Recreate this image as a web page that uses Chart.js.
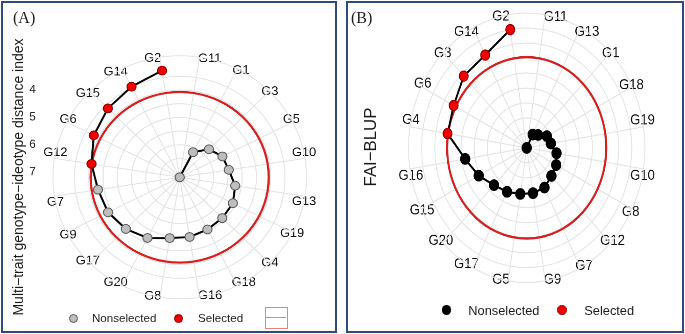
<!DOCTYPE html>
<html>
<head>
<meta charset="utf-8">
<script src="https://cdn.jsdelivr.net/npm/chart.js@4.4.1/dist/chart.umd.min.js"></script>
<style>
  body { margin: 0; width: 685px; height: 334px; position: relative; overflow: hidden; background: #fff;
         font-family: "Liberation Sans", Arial, sans-serif; color: #1a1a1a; }
  .abs { position: absolute; }
  .panel { position: absolute; border: 2px solid #2f4b7c; box-sizing: border-box; }
  .tag { position: absolute; font-family: "Liberation Serif", "Times New Roman", serif; font-size: 16px; line-height: 16px; }
  .ytitle { position: absolute; width: 320px; text-align: center; transform: translate(-50%, -50%) rotate(-90deg); white-space: nowrap; }
  .dot { position: absolute; border-radius: 50%; box-sizing: border-box; }
  .lg { position: absolute; white-space: nowrap; }
</style>
</head>
<body>
<div class="panel" style="left:1px;top:1px;width:336px;height:332px"></div>
<div class="panel" style="left:346px;top:1px;width:338px;height:332px"></div>

<canvas id="chartA" class="abs" width="325" height="333" style="left:4px;top:4px;width:331.5px;height:326.3px"></canvas>
<canvas id="chartB" class="abs" width="355" height="305" style="left:349px;top:4px;width:332.3px;height:324.5px"></canvas>

<div class="tag" style="left:13px;top:10px">(A)</div>
<div class="tag" style="left:351px;top:10px">(B)</div>

<div class="ytitle" style="left:18px;top:177px;font-size:14px;line-height:16px">Multi−trait genotype−ideotype distance index</div>
<div class="ytitle" style="left:371px;top:147px;font-size:16.8px;line-height:18px">FAI−BLUP</div>

<!-- legend A -->
<div class="dot" style="left:68.5px;top:313.5px;width:9px;height:9px;background:#bdbdbd;border:1px solid #5a5a5a"></div>
<div class="lg" style="left:92px;top:311px;font-size:11.6px;line-height:14px">Nonselected</div>
<div class="dot" style="left:173.5px;top:313.5px;width:9px;height:9px;background:#f00000;border:1px solid #8b0000"></div>
<div class="lg" style="left:198px;top:311px;font-size:11.6px;line-height:14px">Selected</div>
<div class="abs" style="left:265px;top:307px;width:23px;height:22px;border:1.5px solid #e8837d;box-sizing:border-box">
  <div class="abs" style="left:0;top:8.5px;width:20px;height:1.5px;background:#e8837d"></div>
</div>

<!-- legend B -->
<div class="dot" style="left:441.6px;top:305.3px;width:9.4px;height:9.4px;background:#000"></div>
<div class="lg" style="left:468.3px;top:302.5px;font-size:12.8px;line-height:15px">Nonselected</div>
<div class="dot" style="left:557.3px;top:305.3px;width:9.4px;height:9.4px;background:#f00000;border:1px solid #8b0000"></div>
<div class="lg" style="left:584.3px;top:302.5px;font-size:12.8px;line-height:15px">Selected</div>

<script>
// (A) MGIDI - genotypes in clockwise order from the top, lower index = better (plotted outward)
const labelsA = ['G2','G11','G1','G3','G5','G10','G13','G19','G4','G18','G16','G8','G20','G17','G9','G7','G12','G6','G15','G14'];
const mgidiA  = [3.24, 7.19, 6.16, 5.74, 5.51, 5.45, 5.22, 5.10, 5.08, 5.05, 4.98, 4.94, 4.70, 4.52, 4.37, 4.29, 4.06, 3.81, 3.63, 3.47];
const selectedA = ['G2','G14','G15','G6','G12'];
const cutA = 4.07;
const ticksA = [4, 5, 6, 7];
const ringsA = [7.19, 7, 6.5, 6, 5.5, 5, 4.5, 4, 3.5, 2.746];   // first one sits at the centre

// (B) FAI-BLUP
const labelsB = ['G2','G11','G13','G1','G18','G19','G10','G8','G12','G7','G9','G5','G17','G20','G15','G16','G4','G6','G3','G14'];
const faiB    = [0.750, 0.350, 0.400, 0.411, 0.436, 0.443, 0.465, 0.476, 0.483, 0.499, 0.503, 0.506, 0.515, 0.526, 0.555, 0.587, 0.655, 0.662, 0.689, 0.698];
const selectedB = ['G2','G14','G3','G6','G4'];
const cutB = 0.653;
const ringsB = [0.35, 0.4, 0.45, 0.5, 0.55, 0.6, 0.65, 0.7, 0.75, 0.8];

const FAMILY = '"Liberation Sans", Arial, sans-serif';
const measure = document.createElement('canvas').getContext('2d');

// ggplot puts the theta labels centred on the outer ring, Chart.js puts them outside -> pull them in
function centredPadding(labels, size, start) {
  measure.font = size + 'px ' + FAMILY;
  const h = size * 1.2;
  return ctx => {
    const w = measure.measureText(labels[ctx.index]).width;
    const a = (start + 360 / labels.length * ctx.index) * Math.PI / 180;
    return -(w / 2 * Math.abs(Math.sin(a)) + h / 2 * Math.abs(Math.cos(a)));
  };
}

const keep = (vals, labels, sel, want) => vals.map((v, i) => sel.includes(labels[i]) === want ? v : null);
// the spiral is every edge of the loop except G2 -> next label, so split it in two open pieces
const pathBody = vals => vals.map((v, i) => i === 0 ? null : v);
const pathTail = vals => vals.map((v, i) => (i === 0 || i === vals.length - 1) ? v : null);

function spiral(labels, vals, sel, cut, look) {
  return [
    { label: 'Selected', data: keep(vals, labels, sel, true), showLine: false, fill: false,
      pointRadius: look.selR, pointBackgroundColor: '#f00000', pointBorderColor: '#8b0000', pointBorderWidth: 1 },
    { label: 'Nonselected', data: keep(vals, labels, sel, false), showLine: false, fill: false,
      pointRadius: look.nonR, pointBackgroundColor: look.nonFill, pointBorderColor: look.nonEdge, pointBorderWidth: 1 },
    { label: 'path', data: pathBody(vals), fill: false, borderColor: '#000', borderWidth: 2, pointRadius: 0, tension: 0 },
    { label: 'path', data: pathTail(vals), fill: false, borderColor: '#000', borderWidth: 2, pointRadius: 0, tension: 0 },
    { label: 'cut', data: labels.map(() => cut), fill: false, borderColor: '#d42020', borderWidth: 2.2, pointRadius: 0, tension: 0.34 }
  ];
}

function radarScale(labels, rings, min, max, reverse, fontSize) {
  return {
    r: {
      min, max, reverse, startAngle: -9,
      ticks: { display: false },
      afterBuildTicks: s => { s.ticks = rings.map(v => ({ value: v })); },
      grid: { circular: true, color: '#e3e3e3', lineWidth: 1 },
      angleLines: { color: '#e3e3e3', lineWidth: 1 },
      pointLabels: {
        color: '#111',
        font: { family: FAMILY, size: fontSize },
        padding: centredPadding(labels, fontSize, -9)
      }
    }
  };
}

const tickLabelsA = {
  id: 'tickLabelsA',
  afterDraw(chart) {
    const s = chart.scales.r, c = chart.ctx;
    c.save();
    c.font = '11.5px ' + FAMILY;
    c.fillStyle = '#222';
    c.textAlign = 'center';
    c.textBaseline = 'middle';
    ticksA.forEach(v => c.fillText(String(v), 28, s.yCenter - s.getDistanceFromCenterForValue(v)));
    c.restore();
  }
};

// === (A) ===
new Chart(document.getElementById('chartA').getContext('2d'), {
  type: 'radar',
  data: {
    labels: labelsA,
    datasets: spiral(labelsA, mgidiA, selectedA, cutA, { selR: 4.5, nonR: 4.5, nonFill: '#bdbdbd', nonEdge: '#5a5a5a' })
  },
  options: {
    responsive: false, animation: false, events: [], devicePixelRatio: 2,
    layout: { padding: { left: 22, right: 2, top: 49, bottom: 26 } },
    plugins: { legend: { display: false }, tooltip: { enabled: false } },
    scales: radarScale(labelsA, ringsA, 2.746, 7.19, true, 12.5)
  },
  plugins: [tickLabelsA]
});

// === (B) ===
new Chart(document.getElementById('chartB').getContext('2d'), {
  type: 'radar',
  data: {
    labels: labelsB,
    datasets: spiral(labelsB, faiB, selectedB, cutB, { selR: 4.8, nonR: 5, nonFill: '#000', nonEdge: '#000' })
  },
  options: {
    responsive: false, animation: false, events: [], devicePixelRatio: 2,
    layout: { padding: { left: 26, right: 1, top: 3, bottom: 37 } },
    plugins: { legend: { display: false }, tooltip: { enabled: false } },
    scales: radarScale(labelsB, ringsB, 0.35, 0.80, false, 14)
  }
});
</script>
</body>
</html>
